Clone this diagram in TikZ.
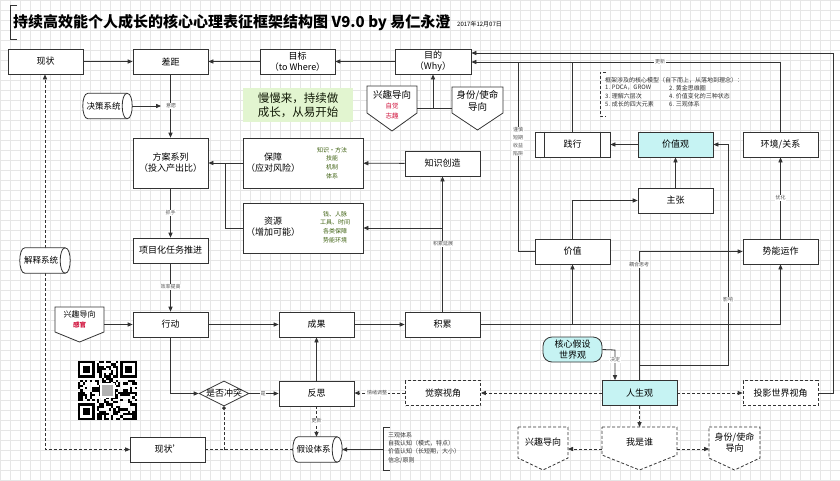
\documentclass[tikz,border=0pt]{standalone}
\usepackage{fontspec}
\setmainfont{Noto Sans CJK SC}
\usetikzlibrary{shapes.geometric,arrows.meta,calc}
\definecolor{lc}{HTML}{333333}
\definecolor{cyf}{HTML}{C6F3F3}
\definecolor{gnf}{HTML}{E2F5D0}
\definecolor{gtx}{HTML}{3F6212}
\definecolor{rdx}{HTML}{D0103A}
\definecolor{lbx}{HTML}{555555}
\definecolor{grd}{HTML}{E6E6E6}
\newcommand\mycyl[1]{%
  \draw[draw=lc, line width=0.8pt, fill=white] ([xshift=5pt]#1.north west) -- ([xshift=-5pt]#1.north east)
    .. controls ([xshift=1.67pt]#1.north east) and ([xshift=1.67pt]#1.south east) .. ([xshift=-5pt]#1.south east)
    -- ([xshift=5pt]#1.south west)
    .. controls ([xshift=-1.67pt]#1.south west) and ([xshift=-1.67pt]#1.north west) .. cycle;
  \draw[draw=lc, line width=0.8pt] ([xshift=-5pt]#1.north east)
    .. controls ([xshift=-11.67pt]#1.north east) and ([xshift=-11.67pt]#1.south east) .. ([xshift=-5pt]#1.south east);}
\begin{document}
\begin{tikzpicture}[x=1pt,y=-1pt,
  box/.style={draw=lc, line width=0.8pt, fill=white, minimum width=75pt, minimum height=25pt, inner sep=1pt, align=center, font=\fontsize{9}{11}\selectfont},
  dbox/.style={box, dash pattern=on 3pt off 2pt},
  ln/.style={draw=lc, line width=0.8pt},
  dln/.style={ln, dash pattern=on 3pt off 2pt},
  arr/.style={ln, -{Triangle[length=5pt,width=4.2pt]}},
  darr/.style={dln, -{Triangle[length=5pt,width=4.2pt]}},
  lbl/.style={font=\fontsize{5}{6}\selectfont, text=lbx, fill=white, inner sep=0.6pt},
  tx/.style={font=\fontsize{9}{11}\selectfont, inner sep=0, align=center},
  ctx/.style={font=\fontsize{8.5}{10}\selectfont, inner sep=0, align=center},
  gtxt/.style={font=\fontsize{6}{8.8}\selectfont, text=gtx, align=center, inner sep=0},
  nt/.style={font=\fontsize{6}{8}\selectfont, text=black!80, inner sep=0, anchor=west},
  cylbox/.style={inner sep=0, minimum width=49pt, minimum height=25pt, font=\fontsize{9}{11}\selectfont}
]
\useasboundingbox (0,0) rectangle (840,480);
\fill[white] (0,0) rectangle (840,480);
\draw[grd, line width=0.25pt, step=10pt] (0,0) grid (840,480);

% title
\draw[lc, line width=0.8pt] (17,5) -- (10,5) -- (10,39) -- (17,39);
\node[anchor=west, inner sep=0, font=\fontsize{15}{17}\bfseries] (title) at (13,23) {持续高效能个人成长的核心心理表征框架结构图 V9.0 by 易仁永澄};
\node[anchor=west, inner sep=0, font=\fontsize{6}{7}\selectfont] (date) at (457,24) {2017年12月07日};

% row 1
\node[box] (xz) at (45.5,61.5) {现状};
\node[box] (cj) at (170.5,61.5) {差距};
\node[box] (mb) at (297.5,61.5) {目标\\（to Where）};
\node[box, minimum width=76pt] (md) at (433,61.5) {目的\\（Why）};
\draw[arr] (xz) -- (cj);
\draw[arr] (mb) -- (cj);
\draw[arr] (md) -- (mb);

% pentagons under 目的
\draw[ln, fill=white] (367,86) -- (417,86) -- (417,113) -- (392,131) -- (367,113) -- cycle;
\node[tx, font=\fontsize{9.5}{11}\selectfont] (xq1) at (392,95) {兴趣导向};
\node[tx, font=\fontsize{6.5}{10}\selectfont, text=rdx] (xq1b) at (392,111) {自觉\\志趣};
\draw[ln, fill=white] (452,87) -- (503,87) -- (503,113) -- (477.5,130) -- (452,113) -- cycle;
\node[tx, font=\fontsize{9.5}{12}\selectfont] (sf1) at (477.5,101) {身份/使命\\导向};
\coordinate (xqr) at (417,108);
\coordinate (sfl) at (452,108);
\draw[ln] (xqr) -- (sfl);
\draw[arr] (md.south |- xqr) -- (md.south);

% green note
\node[fill=gnf, minimum width=110pt, minimum height=34pt, inner sep=0, align=center, font=\fontsize{11.5}{14}\selectfont, text=black!75!gtx] (note) at (298,105) {慢慢来，持续做\\成长，从易开始};

% 决策系统
\node[cylbox] (jcs) at (107.5,106) {};
\mycyl{jcs}
\node[ctx] at ([xshift=-4pt]jcs.center) {决策系统};
\coordinate (yy) at (161,106);
\draw[arr] (jcs.east) -- (yy);

% left column
\node[box, minimum height=50pt] (fa) at (170.5,163) {方案系列\\（投入产出比）};
\node[box] (xm) at (170.5,250.5) {项目化任务推进};
\node[box] (xd) at (170.5,324.5) {行动};
\draw[arr] (cj) -- (fa);
\node[lbl] at (171,106) {意愿};
\draw[arr] (fa) -- (xm);
\node[lbl] at (170.5,213) {抓手};
\draw[arr] (xm) -- (xd);
\node[lbl] at (170.5,287) {效率提高};

% 保障 / 资源
\node[box, minimum width=120pt, minimum height=50pt] (bz) at (303,163) {};
\node[tx] at (273,162.5) {保障\\（应对风险）};
\node[gtxt] at (332,163) {知识•方法\\技能\\机制\\体系};
\node[box, minimum width=120pt, minimum height=50pt] (zy) at (303,228) {};
\node[tx] at (273,227) {资源\\（增加可能）};
\node[gtxt] at (335,227) {钱、人脉\\工具、时间\\各类保障\\势能环境};
\draw[arr] (bz) -- (fa);
\coordinate (zj) at (225,163);
\draw[ln] (zy.west) -| (zj);

\node[box] (zs) at (442.5,163.5) {知识创造};
\draw[arr] (zs) -- (bz);

% row 行动
\node[box] (cg) at (316.5,324.5) {成果};
\node[box] (jl) at (442.5,324.5) {积累};
\draw[arr] (xd) -- (cg);
\draw[arr] (cg) -- (jl);
\draw[arr] (jl) -- (zs);
\draw[arr] (zs.south |- zy.east) -- (zy.east);
\node[lbl] at (443,244) {积累延展};

% small 兴趣导向
\draw[ln, fill=white] (55,307) -- (104,307) -- (104,332) -- (79.5,342) -- (55,332) -- cycle;
\node[tx, font=\fontsize{8}{10}\selectfont] (xq2) at (79.5,314) {兴趣导向};
\node[tx, font=\fontsize{6.5}{8}\bfseries, text=rdx] (xq2b) at (79.5,325) {感官};
\coordinate (xq2r) at (104,324.5);
\draw[arr] (xq2r) -- (xd.west);

% diamond and 反思
\node[diamond, draw=lc, line width=0.8pt, fill=white, aspect=2, minimum width=50pt, minimum height=25pt, inner sep=0] (dm) at (224,393.5) {};
\node[tx] at (dm) {是否冲突};
\node[box] (fs) at (316.5,393.5) {反思};
\draw[arr] (xd.south) |- (dm.west);
\draw[arr] (dm.east) -- (fs.west);
\node[lbl] at (263,393.5) {是};
\draw[arr] (fs) -- (cg);

% 假设体系 etc
\node[cylbox] (hs) at (317.5,449.5) {};
\mycyl{hs}
\node[ctx] at ([xshift=-4pt]hs.center) {假设体系};
\node[box] (xz2) at (168,449.5) {现状'};
\draw[darr] (fs.south) -- (fs.south |- hs.north);
\node[lbl] at (316.5,421) {更新};
\draw[dln] (hs.west) -- (xz2.east);
\coordinate (dmb) at (dm.south |- hs.west);
\draw[dln, -{Circle[length=3.5pt]}] (dmb) -- (dm.south);

\draw[lc, line width=0.8pt] (390,427) -- (383,427) -- (383,470) -- (390,470);
\coordinate (brk) at (383,449.5);
\draw[arr] (brk) -- (hs.east);
\node[nt, anchor=north west, align=left, font=\fontsize{6}{8.3}\selectfont] (sgt) at (388,432) {三观体系\\自我认知（模式，特点）\\价值认知（长短期，大小）\\信念/原则};

% 解释系统
\node[cylbox, minimum width=50pt] (js) at (45,260.5) {};
\draw[darr] (js.north) -- (js.north |- xz.south);
\draw[darr] (js.south) |- (xz2.west);
\mycyl{js}
\node[ctx] at ([xshift=-4pt]js.center) {解释系统};

% QR code
\begin{scope}
\def\qm{2.36}
\foreach \i in {0,...,24}{
  \foreach \j in {0,...,24}{
    \pgfmathtruncatemacro\v{mod(\i*37+\j*61+mod(\i*\j*\i,97)+mod(\j*\j*13,89),10)}
    \ifnum\v<5 \fill[black] (78+\i*\qm,361+\j*\qm) rectangle ++(\qm,\qm); \fi
  }}
\foreach \a/\b in {0/0,17/0,0/17}{
  \fill[white] (78+\a*\qm,361+\b*\qm) rectangle ++(8*\qm,8*\qm);
}
\foreach \a/\b in {0/0,18/0,0/18}{
  \fill[black] (78+\a*\qm,361+\b*\qm) rectangle ++(7*\qm,7*\qm);
  \fill[white] (78+\a*\qm+\qm,361+\b*\qm+\qm) rectangle ++(5*\qm,5*\qm);
  \fill[black] (78+\a*\qm+2*\qm,361+\b*\qm+2*\qm) rectangle ++(3*\qm,3*\qm);
}
\fill[white] (78+9.5*\qm,361+9.5*\qm) rectangle ++(6*\qm,6*\qm);
\fill[gray!60] (78+10*\qm,361+10*\qm) rectangle ++(5*\qm,5*\qm);
\end{scope}

% right part
\node[box] (jx) at (572.5,144.5) {践行};
\draw[ln] ([xshift=10pt]jx.north west) -- ([xshift=10pt]jx.south west);
\draw[ln] ([xshift=-10pt]jx.north east) -- ([xshift=-10pt]jx.south east);
\node[box, fill=cyf] (jz) at (675.5,144.5) {价值观};
\node[box] (hj) at (780.5,144.5) {环境/关系};
\node[box] (zz) at (675.5,200.5) {主张};
\node[box] (jv) at (572.5,251.5) {价值};
\node[box] (sn) at (780.5,251.5) {势能运作};
\node[box, fill=cyf] (rs) at (639.5,393) {人生观};
\node[dbox] (jcv) at (443,393) {觉察视角};
\node[dbox] (ty) at (780.5,393) {投影世界视角};
\node[box, fill=cyf, rounded corners=9pt, minimum width=59pt] (hx) at (572.5,349.5) {核心假设\\世界观};

% notes
\draw[lc, line width=0.8pt, dash pattern=on 3pt off 2pt] (606,72) -- (600,72) -- (600,116) -- (606,116);
\node[nt] at (605,80) {框架涉及的核心模型（自下而上，从落地到理念）：};
\node[nt] at (605,88) {1. PDCA，GROW};
\node[nt] at (669,88) {2. 黄金思维圈};
\node[nt] at (605,96) {3. 理解六层次};
\node[nt] at (669,96) {4. 价值变化的三种状态};
\node[nt] at (605,104) {5. 成长的四大元素};
\node[nt] at (669,104) {6. 三观体系};

% connectors to 目的
\coordinate (rc1) at (833,53);
\draw[arr] (ty.east) -| (rc1) -- (md.east |- rc1);
\coordinate (gy) at (520,62);
\draw[arr] (hj.north) |- (md.east |- gy);
\node[lbl] at (660,62) {更新};
\draw[ln] (jx.north) -- (jx.north |- gy);
\coordinate (kx) at (518,62);
\draw[ln] (jv.west) -| (kx);
\node[lbl, align=center, font=\fontsize{5}{8}\selectfont] at (518,141.5) {谨慎\\短期\\收益\\陷阱};

\draw[arr] (jz) -- (jx);
\draw[arr] (zz) -- (jz);
\draw[arr] (jv.north) |- (zz.west);
\draw[arr] (sn) -- (hj);
\node[lbl] at (780.5,198) {优化};
\draw[arr] (jl.east) -| (sn.south);
\draw[arr] (jv.south |- jl.east) -- (jv.south);
\draw[arr] (rs.north) |- (sn.west);
\node[lbl] at (639,265) {耦合思考};
\coordinate (yx) at (728,365);
\draw[arr] (rs.north |- yx) -- (yx) |- (jz.east);
\node[lbl] at (728,300) {影响};
\coordinate (jdx) at (615,350);
\draw[arr] (hx.east) -- (jdx) -- (jdx |- rs.north);
\node[lbl] at (615,360) {决定};

\draw[darr] (rs) -- (jcv);
\draw[darr] (rs) -- (ty);
\draw[darr] (jcv) -- (fs.east |- jcv.west);
\node[lbl] at (377,393) {情绪调整};

% bottom pentagons
\draw[dln, fill=white] (518,427) -- (568,427) -- (568,458) -- (543,470) -- (518,458) -- cycle;
\node[tx] (xq3) at (543,442) {兴趣导向};
\draw[dln, fill=white] (602,427) -- (677,427) -- (677,455) -- (639.5,470) -- (602,455) -- cycle;
\node[tx] (wsh) at (639.5,442) {我是谁};
\draw[dln, fill=white] (709,427) -- (760,427) -- (760,458) -- (734.5,470) -- (709,458) -- cycle;
\node[tx, font=\fontsize{9}{11}\selectfont] (sf3) at (734.5,442.5) {身份/使命\\导向};
\coordinate (wst) at (639.5,427);
\coordinate (wsl) at (602,449);
\coordinate (wsr) at (677,449);
\coordinate (xq3r) at (568,449);
\coordinate (sf3l) at (709,449);
\draw[darr] (rs.south) -- (wst);
\draw[darr] (wsl) -- (xq3r);
\draw[darr] (wsr) -- (sf3l);
\end{tikzpicture}
\end{document}
